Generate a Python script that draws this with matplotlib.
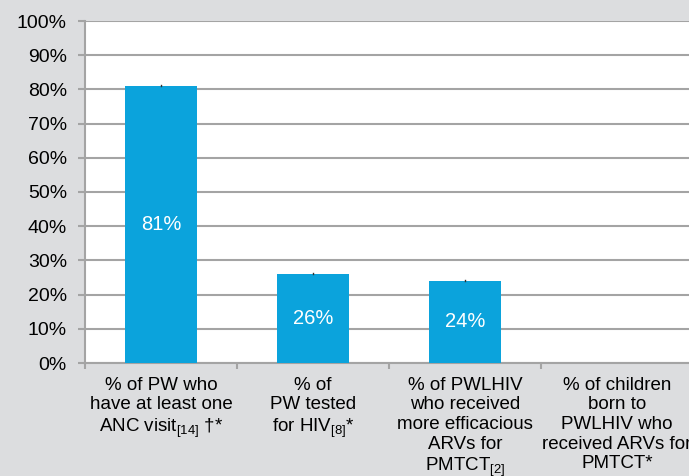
import numpy as np
import matplotlib
matplotlib.use('Agg')
import matplotlib.pyplot as plt
from matplotlib.ticker import FixedLocator, PercentFormatter

plt.rcParams['font.family'] = ['Liberation Sans', 'DejaVu Sans']
plt.rcParams['mathtext.fontset'] = 'custom'
plt.rcParams['mathtext.rm'] = 'Liberation Sans'
plt.rcParams['mathtext.it'] = 'Liberation Sans'
plt.rcParams['mathtext.default'] = 'regular'

categories = [
    "% of PW who\nhave at least one\nANC visit$_{[14]}$ †*",
    "% of\nPW tested\nfor HIV$_{[8]}$*",
    "% of PWLHIV\nwho received\nmore efficacious\nARVs for\nPMTCT$_{[2]}$",
    "% of children\nborn to\nPWLHIV who\nreceived ARVs for\nPMTCT*",
]
values = [81, 26, 24, np.nan]
bar_labels = ["81%", "26%", "24%", ""]

bg = '#dcdddf'
bar_color = '#0ba3dc'
grid_color = '#a4a4a4'

fig = plt.figure(figsize=(6.89, 4.76), dpi=100, facecolor=bg)
ax = fig.add_axes([85 / 689, 1 - 363 / 476, 608 / 689, 342 / 476])
ax.set_facecolor('white')

x = np.arange(len(categories))
ax.bar(x, values, width=0.47, color=bar_color, zorder=3)

# tiny error marks on top of bars
for xi, v in zip(x, values):
    if not np.isnan(v):
        ax.plot([xi, xi], [v, v + 0.4], color='#333333', lw=1, zorder=4)

for xi, v, lab in zip(x, values, bar_labels):
    if lab:
        ax.text(xi, v / 2, lab, color='white', ha='center', va='center',
                fontsize=14.5, zorder=5)

ax.set_xlim(-0.5, len(categories) - 0.5)
ax.set_ylim(0, 100)
ax.set_yticks(np.arange(0, 101, 10))
ax.yaxis.set_major_formatter(PercentFormatter(decimals=0))
ax.yaxis.grid(True, color=grid_color, lw=1.5, zorder=0)
ax.set_axisbelow(True)

ax.set_xticks(x)
ax.set_xticklabels(categories, fontsize=13.5, linespacing=1.2, va='top')
ax.xaxis.set_minor_locator(FixedLocator(np.arange(-0.5, len(categories), 1.0)))
ax.tick_params(axis='x', which='major', length=0, pad=10)
ax.tick_params(axis='x', which='minor', length=4, color=grid_color, width=1.5)
ax.tick_params(axis='y', length=5, color=grid_color, width=1.5, labelsize=14, pad=8)

for s in ['top', 'right']:
    ax.spines[s].set_visible(False)
for s in ['left', 'bottom']:
    ax.spines[s].set_color(grid_color)
    ax.spines[s].set_linewidth(1.5)

fig.savefig('out.png', dpi=100, facecolor=bg)
